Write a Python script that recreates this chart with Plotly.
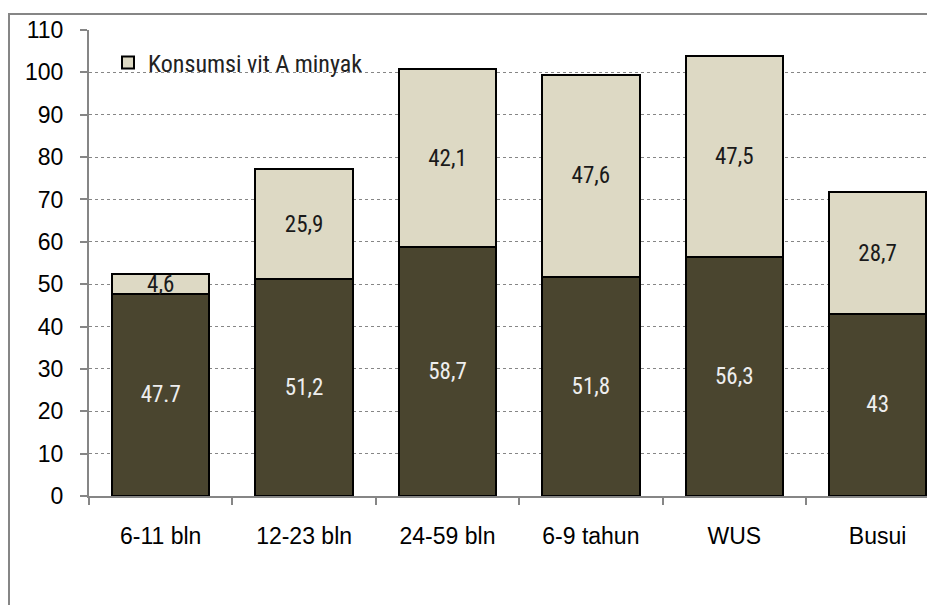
import plotly.graph_objects as go

categories = ["6-11 bln", "12-23 bln", "24-59 bln", "6-9 tahun", "WUS", "Busui"]
dark_values = [47.7, 51.2, 58.7, 51.8, 56.3, 43]
dark_labels = ["47.7", "51,2", "58,7", "51,8", "56,3", "43"]
light_values = [4.6, 25.9, 42.1, 47.6, 47.5, 28.7]
light_labels = ["4,6", "25,9", "42,1", "47,6", "47,5", "28,7"]
y_ticks = list(range(0, 111, 10))

DARK = "#4a452f"
LIGHT = "#ddd9c4"
GRAY = "#868686"
NARROW = "Roboto Condensed, Liberation Sans Narrow, sans-serif"
SANS = "Liberation Sans, Arial, sans-serif"

fig = go.Figure()
fig.add_trace(go.Bar(
    x=categories, y=dark_values, text=dark_labels, name="Konsumsi vit A",
    marker=dict(color=DARK, line=dict(color="black", width=2)),
    textposition="inside", insidetextanchor="middle", constraintext="none",
    textfont=dict(family=NARROW, size=23, color="#eeeeee"),
    showlegend=False, width=0.68,
))
fig.add_trace(go.Bar(
    x=categories, y=light_values, text=light_labels, name="Konsumsi vit A minyak",
    marker=dict(color=LIGHT, line=dict(color="black", width=2)),
    textposition="inside", insidetextanchor="middle", constraintext="none",
    textfont=dict(family=NARROW, size=23, color="#1a1a1a"),
    width=0.68,
))

# page has an 8px body margin: compensate so the chart lands where the reference has it
OFF = 8
W, H = 935 - OFF, 605 - OFF
L, T = 89 - OFF, 30 - OFF
B = H - (496 - OFF)
R = 0
pw, ph = W - L - R, H - T - B


def px_x(page_x):
    return (page_x - OFF - L) / pw


def px_y(page_y):
    return (496 - page_y) / ph


fig.update_layout(
    barmode="stack",
    width=W, height=H,
    margin=dict(l=L, r=R, t=T, b=B, pad=0),
    paper_bgcolor="white", plot_bgcolor="white",
    font=dict(family=SANS, color="black"),
    legend=dict(
        x=px_x(108), y=px_y(63), xanchor="left", yanchor="middle",
        font=dict(family=NARROW, size=24, color="#222222"),
        bgcolor="rgba(0,0,0,0)", itemwidth=30,
    ),
    showlegend=True,
    xaxis=dict(
        range=[-0.5, 5.4], type="category",
        showline=True, linecolor=GRAY, linewidth=2,
        ticks="outside", ticklen=7, tickcolor=GRAY, tickwidth=2,
        tickson="boundaries", showgrid=False,
        tickfont=dict(family=SANS, size=23, color="black"),
        ticklabelstandoff=18,
    ),
    yaxis=dict(
        range=[0, 110], tickvals=y_ticks,
        showline=True, linecolor=GRAY, linewidth=2,
        ticks="outside", ticklen=7, tickcolor=GRAY, tickwidth=2,
        showgrid=True, gridcolor=GRAY, griddash="dot", gridwidth=1,
        zeroline=False,
        tickfont=dict(family=SANS, size=23, color="black"),
        ticklabelstandoff=12,
    ),
)

# outer chart border (extends beyond right and bottom edges)
fig.add_shape(
    type="rect", xref="paper", yref="paper",
    x0=px_x(9), x1=px_x(960),
    y0=px_y(640), y1=px_y(14),
    line=dict(color=GRAY, width=2), fillcolor="rgba(0,0,0,0)", layer="below",
)

fig.write_html("out.html")
